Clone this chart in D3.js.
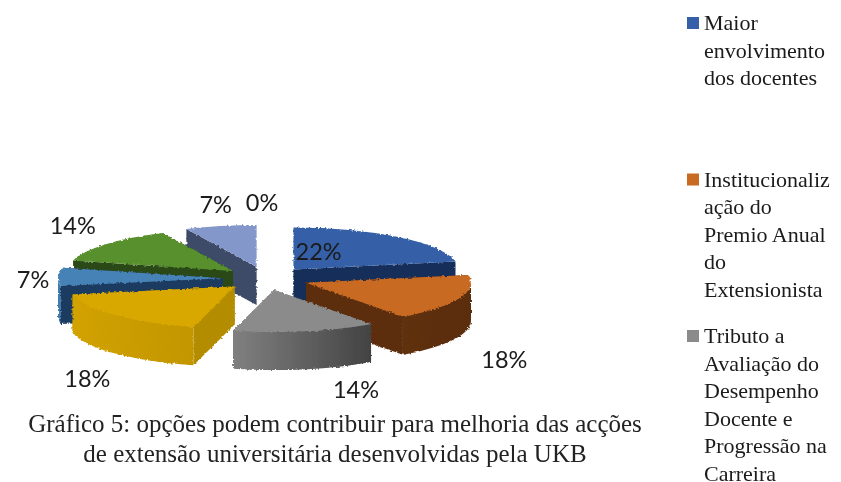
<!DOCTYPE html>
<html>
<head>
<meta charset="utf-8">
<script src="https://cdn.jsdelivr.net/npm/d3@7"></script>
<style>
  html, body { margin: 0; padding: 0; background: #fff; }
  svg { display: block; }
</style>
</head>
<body>
<div id="chart"></div>
<script>
// slice values, clockwise from 12 o'clock
var values = [22, 18, 14, 18, 7, 14, 7, 0];
var valueLabels = ['22%', '18%', '14%', '18%', '7%', '14%', '7%', '0%'];

var topColors = ['#3561a8', '#c96a24', '#8b8b8b', '#d8a700', '#4682b6', '#58902f', '#8497ca', '#8497ca'];
var sideColors = ['#182f5a', '#5b2f10', '#6a6a6a', '#b38c00', '#1e3a60', '#2b4a17', '#3e4b69', '#3e4b69'];
var wallLeft = ['#182f5a', '#5f3010', '#808080', '#d2a200', '#3f79ac', '#2b4a17', '#3e4b69', '#3e4b69'];
var wallRight = ['#182f5a', '#5a2e10', '#434343', '#c29600', '#3f79ac', '#2b4a17', '#3e4b69', '#3e4b69'];

// nudge of each percent label from the middle of its slice's outer edge
var labelDx = [-80, 45, 51, -27, -25, -33, -5, -4];
var labelDy = [15, 61, 58, 63, 3, -18, -21, -22];

var legendNames = [
    ['Maior', 'envolvimento', 'dos docentes'],
    ['Institucionaliz', 'ação do', 'Premio Anual', 'do', 'Extensionista'],
    ['Tributo a', 'Avaliação do', 'Desempenho', 'Docente e', 'Progressão na', 'Carreira']
];
var captionLines = [
    'Gráfico 5: opções podem contribuir para melhoria das acções',
    'de extensão universitária desenvolvidas pela UKB'
];

var width = 841, height = 482;
var cx = 266, cy = 278.5;
var rx = 165, ry = 42;
var explodeX = 43, explodeY = 11.8;
var depth = 38;

var svg = d3.select('#chart')
    .append('svg')
    .attr('width', width)
    .attr('height', height);

var defs = svg.append('defs');

// rough stair-step edges of the original picture
var rough = defs.append('filter')
    .attr('id', 'rough')
    .attr('x', '-5%').attr('y', '-5%')
    .attr('width', '110%').attr('height', '110%');
rough.append('feTurbulence')
    .attr('type', 'fractalNoise')
    .attr('baseFrequency', 0.45)
    .attr('numOctaves', 1)
    .attr('seed', 3)
    .attr('result', 'noise');
rough.append('feDisplacementMap')
    .attr('in', 'SourceGraphic')
    .attr('in2', 'noise')
    .attr('scale', 3.5)
    .attr('xChannelSelector', 'R')
    .attr('yChannelSelector', 'G');

var soft = defs.append('filter').attr('id', 'soft');
soft.append('feGaussianBlur').attr('stdDeviation', 0.35);

var pieGenerator = d3.pie()
    .value(function(d) { return d; })
    .sort(null);

var arcData = pieGenerator(values);

var arcGenerator = d3.arc()
    .innerRadius(0)
    .outerRadius(rx);

arcData.forEach(function(d, i) {
    var mid = (d.startAngle + d.endAngle) / 2;
    d.index2 = i;
    d.apexX = cx + explodeX * Math.sin(mid);
    d.apexY = cy - explodeY * Math.cos(mid);
});

function rim(d, a) {
    return [d.apexX + rx * Math.sin(a), d.apexY - ry * Math.cos(a)];
}

var outerWall = d3.area()
    .x(function(p) { return p[0]; })
    .y0(function(p) { return p[1]; })
    .y1(function(p) { return p[1] + depth; });

var polygon = d3.line();

// back slices first, the front ones overlap them
var drawOrder = [6, 0, 5, 4, 3, 1, 2];

var pieGroup = svg.append('g')
    .attr('filter', 'url(#soft)');

drawOrder.forEach(function(i) {
    var d = arcData[i];
    var g = pieGroup.append('g').attr('filter', 'url(#rough)');

    // radial faces
    [d.startAngle, d.endAngle].forEach(function(a) {
        var p = rim(d, a);
        g.append('path')
            .attr('d', polygon([
                [d.apexX, d.apexY],
                p,
                [p[0], p[1] + depth],
                [d.apexX, d.apexY + depth]
            ]) + 'Z')
            .attr('fill', sideColors[i]);
    });

    // outer wall, only the front half of the rim can be seen
    var from = Math.max(d.startAngle, Math.PI / 2);
    var to = Math.min(d.endAngle, Math.PI * 3 / 2);
    if (to > from) {
        var gradId = 'wall' + i;
        var grad = defs.append('linearGradient').attr('id', gradId);
        grad.append('stop').attr('offset', '0%').attr('stop-color', wallLeft[i]);
        grad.append('stop').attr('offset', '100%').attr('stop-color', wallRight[i]);
        var pts = d3.range(0, 41).map(function(k) {
            return rim(d, from + (to - from) * k / 40);
        });
        g.append('path')
            .attr('d', outerWall(pts))
            .attr('fill', 'url(#' + gradId + ')');
    }

    // top face, a circle arc squashed into the ellipse
    g.append('path')
        .attr('d', arcGenerator(d))
        .attr('transform', 'translate(' + d.apexX + ',' + d.apexY + ') scale(1,' + (ry / rx) + ')')
        .attr('fill', topColors[i]);
});

var textGroup = svg.append('g').attr('filter', 'url(#soft)');

textGroup.selectAll('text.value')
    .data(arcData)
    .enter()
    .append('text')
    .attr('class', 'value')
    .each(function(d, i) {
        var mid = (d.startAngle + d.endAngle) / 2;
        var p = rim(d, mid);
        d3.select(this)
            .attr('x', p[0] + labelDx[i])
            .attr('y', p[1] + labelDy[i])
            .attr('dy', '0.35em')
            .attr('text-anchor', 'middle')
            .attr('font-family', 'Lato')
            .attr('font-size', '23.5px')
            .attr('fill', '#1a1a1a')
            .text(valueLabels[i]);
    });

// legend, cut by the bottom of the picture like in the original
var legendX = 704, legendTop = 30, legendStep = 156.5, lineStep = 27.6;

legendNames.forEach(function(lines, i) {
    var y0 = legendTop + i * legendStep;
    textGroup.append('rect')
        .attr('x', legendX - 17)
        .attr('y', y0 - 13)
        .attr('width', 12)
        .attr('height', 12)
        .attr('fill', topColors[i]);
    lines.forEach(function(line, j) {
        textGroup.append('text')
            .attr('x', legendX)
            .attr('y', y0 + j * lineStep)
            .attr('font-family', 'Liberation Serif')
            .attr('font-size', '22px')
            .attr('fill', '#1a1a1a')
            .text(line);
    });
});

captionLines.forEach(function(line, i) {
    textGroup.append('text')
        .attr('x', 335)
        .attr('y', 432 + i * 30)
        .attr('text-anchor', 'middle')
        .attr('font-family', 'Liberation Serif')
        .attr('font-size', '25px')
        .attr('fill', '#222')
        .text(line);
});
</script>
</body>
</html>
